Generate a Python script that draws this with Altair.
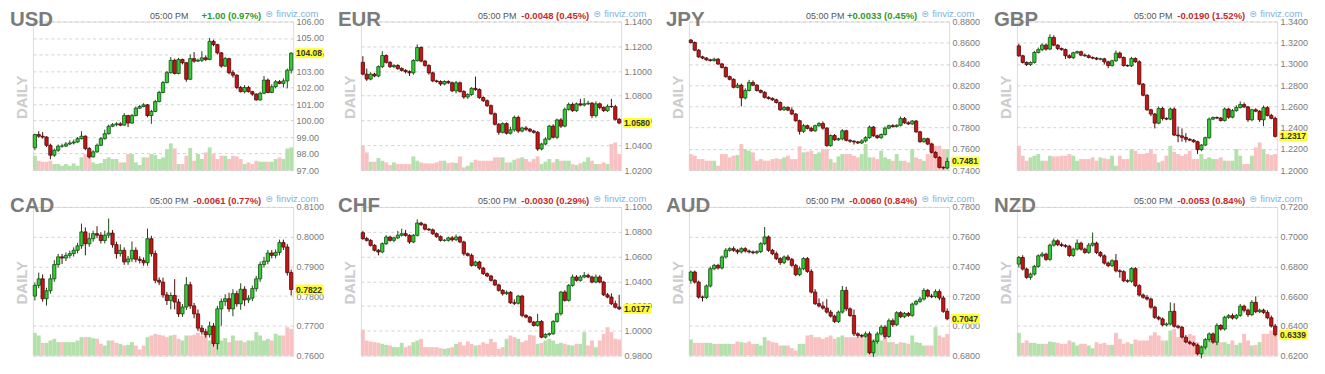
import altair as alt
import pandas as pd

# ---------------- labels ----------------
symbols = ["USD", "EUR", "JPY", "GBP", "CAD", "CHF", "AUD", "NZD"]
changes = ["+1.00 (0.97%)", "-0.0048 (0.45%)", "+0.0033 (0.45%)", "-0.0190 (1.52%)",
           "-0.0061 (0.77%)", "-0.0030 (0.29%)", "-0.0060 (0.84%)", "-0.0053 (0.84%)"]
time_label = "05:00 PM"
side_label = "DAILY"
site_label = "finviz.com"
months = ["Apr", "May", "Jun"]
month_start = [15.9, 36.4, 58.5]          # bar index where each month begins

usd_ticks = [97, 98, 99, 100, 101, 102, 103, 104, 105, 106]
eur_ticks = [1.02, 1.04, 1.06, 1.08, 1.10, 1.12, 1.14]
jpy_ticks = [0.74, 0.76, 0.78, 0.80, 0.82, 0.84, 0.86, 0.88]
gbp_ticks = [1.20, 1.22, 1.24, 1.26, 1.28, 1.30, 1.32, 1.34]
cad_ticks = [0.76, 0.77, 0.78, 0.79, 0.80, 0.81]
chf_ticks = [0.98, 1.00, 1.02, 1.04, 1.06, 1.08, 1.10]
aud_ticks = [0.68, 0.70, 0.72, 0.74, 0.76, 0.78]
nzd_ticks = [0.62, 0.64, 0.66, 0.68, 0.70, 0.72]

# ---------------- data (open of first bar, closes, wicks in pips, volume) ----------------
usd_open = 98.35
usd_close = [99.15, 99.05, 99.0, 98.5, 97.9, 98.2, 98.45, 98.45, 98.58, 98.64,
             98.7, 98.9, 99.05, 98.3, 97.8, 98.1, 98.5, 98.9, 99.2, 99.65,
             99.75, 99.8, 99.72, 100.3, 99.85, 100.3, 100.75, 100.85, 100.95, 100.3,
             100.55, 101.15, 101.7, 102.3, 102.9, 103.65, 102.85, 103.7, 103.5, 102.5,
             103.75, 103.6, 103.65, 103.8, 103.7, 104.8, 104.6, 104.1, 103.3, 103.75,
             102.9, 102.75, 102.0, 101.75, 102.0, 101.75, 101.6, 101.25, 101.65, 102.45,
             101.7, 102.05, 102.35, 102.25, 102.4, 103.05, 104.08]
usd_wick_up = [5, 20, 25, 5, 10, 10, 10, 15, 12, 16, 15, 10, 30, 5, 10, 10, 10, 10, 25, 10,
               10, 10, 10, 15, 5, 10, 10, 10, 10, 5, 10, 10, 10, 10, 10, 20, 10, 10, 5, 5,
               25, 40, 10, 40, 15, 20, 10, 5, 5, 10, 5, 15, 5, 10, 15, 10, 5, 5, 10, 25,
               10, 15, 10, 10, 15, 10, 7]
usd_wick_dn = [15, 10, 10, 10, 25, 10, 10, 10, 5, 8, 9, 5, 5, 10, 10, 5, 5, 5, 5, 5,
               5, 10, 7, 2, 25, 5, 5, 5, 5, 10, 50, 5, 5, 5, 5, 5, 5, 5, 10, 15,
               5, 10, 5, 10, 10, 5, 10, 10, 10, 5, 10, 15, 10, 5, 10, 5, 10, 5, 5, 5,
               5, 5, 10, 5, 25, 45, 20]
usd_volume = [43, 28, 25, 25, 28, 18, 18, 13, 18, 13, 20, 13, 38, 48, 45, 23, 18, 21, 33, 38,
              33, 33, 23, 23, 48, 48, 23, 15, 38, 38, 48, 45, 33, 38, 63, 80, 65, 18, 18, 43,
              66, 28, 48, 33, 53, 68, 48, 33, 43, 43, 33, 43, 41, 33, 18, 23, 18, 28, 25, 25,
              25, 25, 33, 38, 33, 65, 68]

eur_open = 1.107
eur_close = [1.0975, 1.0935, 1.0975, 1.096, 1.1035, 1.1125, 1.107, 1.1035, 1.1045, 1.102,
             1.1005, 1.0995, 1.0985, 1.1085, 1.119, 1.108, 1.1045, 1.0985, 1.092, 1.0915,
             1.0895, 1.0915, 1.0905, 1.084, 1.0905, 1.0835, 1.079, 1.081, 1.086, 1.085,
             1.0785, 1.076, 1.072, 1.0655, 1.057, 1.0505, 1.0575, 1.0497, 1.0525, 1.0625,
             1.0515, 1.054, 1.053, 1.0515, 1.0505, 1.037, 1.041, 1.045, 1.0555, 1.0465,
             1.0605, 1.0555, 1.069, 1.073, 1.068, 1.0735, 1.0725, 1.0735, 1.074, 1.064,
             1.0735, 1.0705, 1.068, 1.0715, 1.0712, 1.061, 1.058]
eur_wick_up = [50, 45, 15, 10, 10, 35, 10, 10, 10, 10, 10, 10, 10, 10, 25, 10, 10, 10, 10, 10,
               10, 10, 10, 10, 15, 10, 10, 10, 10, 95, 10, 10, 10, 10, 10, 10, 10, 10, 25, 15,
               15, 10, 15, 10, 10, 10, 10, 15, 10, 15, 10, 15, 15, 15, 15, 10, 40, 45, 20, 10,
               20, 10, 10, 15, 60, 15, 10]
eur_wick_dn = [10, 15, 10, 10, 10, 10, 10, 10, 10, 10, 10, 15, 25, 15, 10, 10, 10, 15, 10, 10,
               15, 10, 10, 10, 20, 10, 15, 15, 10, 10, 10, 10, 10, 10, 10, 20, 10, 10, 10, 15,
               15, 10, 15, 10, 10, 15, 10, 10, 10, 10, 15, 15, 10, 10, 10, 10, 10, 10, 10, 20,
               15, 15, 10, 10, 10, 10, 10]
eur_volume = [73, 53, 25, 25, 36, 28, 23, 15, 23, 18, 18, 18, 18, 41, 28, 23, 20, 20, 20, 23,
              28, 28, 21, 23, 21, 41, 8, 13, 23, 31, 28, 28, 28, 28, 38, 38, 38, 23, 23, 31,
              35, 38, 33, 25, 33, 41, 18, 25, 33, 23, 33, 28, 28, 28, 18, 15, 20, 25, 38, 28,
              18, 18, 23, 18, 78, 83, 48]

jpy_open = 0.8625
jpy_close = [0.8602, 0.853, 0.8467, 0.8455, 0.8439, 0.8432, 0.8445, 0.84, 0.8367, 0.828,
             0.8255, 0.818, 0.82, 0.808, 0.815, 0.8225, 0.82, 0.815, 0.8133, 0.8085,
             0.8075, 0.8062, 0.8037, 0.7968, 0.799, 0.7965, 0.7928, 0.7865, 0.7765, 0.7818,
             0.7793, 0.777, 0.7818, 0.7838, 0.7795, 0.763, 0.7725, 0.7685, 0.7695, 0.777,
             0.768, 0.7672, 0.7665, 0.7655, 0.7675, 0.7705, 0.7805, 0.7723, 0.7705, 0.7735,
             0.7795, 0.7818, 0.781, 0.7822, 0.7885, 0.7845, 0.7835, 0.7862, 0.776, 0.7667,
             0.7695, 0.7645, 0.7567, 0.752, 0.7425, 0.742, 0.7481]
jpy_wick_up = [10, 10, 10, 10, 10, 10, 15, 10, 10, 10, 10, 10, 20, 15, 20, 25, 20, 10, 10, 10,
               10, 10, 10, 10, 15, 10, 25, 10, 10, 15, 10, 15, 10, 15, 20, 10, 10, 15, 10, 15,
               10, 10, 10, 10, 15, 15, 15, 10, 10, 10, 15, 10, 15, 10, 20, 15, 15, 10, 10, 10,
               10, 10, 10, 10, 10, 10, 35]
jpy_wick_dn = [10, 10, 10, 10, 10, 10, 10, 10, 10, 10, 10, 10, 10, 80, 15, 10, 10, 10, 10, 10,
               10, 10, 10, 10, 10, 10, 10, 10, 30, 15, 10, 10, 10, 10, 15, 10, 10, 10, 10, 15,
               10, 15, 25, 10, 10, 15, 10, 10, 10, 10, 10, 10, 10, 10, 10, 10, 10, 10, 10, 10,
               10, 10, 10, 10, 10, 15, 10]
jpy_volume = [48, 43, 33, 33, 28, 28, 28, 13, 48, 48, 38, 43, 45, 78, 63, 58, 53, 28, 33, 28,
              28, 33, 35, 33, 38, 43, 33, 33, 71, 53, 55, 58, 48, 53, 63, 63, 33, 23, 41, 48,
              48, 48, 43, 38, 48, 78, 38, 38, 33, 58, 38, 33, 28, 48, 28, 28, 23, 63, 38, 33,
              28, 48, 83, 73, 73, 63, 63]

gbp_open = 1.317
gbp_close = [1.3077, 1.3014, 1.2995, 1.3014, 1.3108, 1.3135, 1.3178, 1.314, 1.325, 1.3177,
             1.3145, 1.3135, 1.3077, 1.306, 1.3105, 1.3115, 1.3083, 1.3077, 1.3061, 1.3055,
             1.3045, 1.3048, 1.302, 1.2985, 1.303, 1.3102, 1.3061, 1.2985, 1.2982, 1.3052,
             1.302, 1.281, 1.2705, 1.2568, 1.2528, 1.2442, 1.258, 1.2487, 1.248, 1.2575,
             1.233, 1.2322, 1.2308, 1.229, 1.2282, 1.2267, 1.2192, 1.2235, 1.2305, 1.248,
             1.2495, 1.249, 1.2467, 1.2575, 1.2498, 1.256, 1.259, 1.2617, 1.2595, 1.2474,
             1.2568, 1.2555, 1.2474, 1.2588, 1.2515, 1.2488, 1.2317]
gbp_wick_up = [20, 10, 10, 10, 15, 20, 15, 15, 30, 20, 10, 10, 10, 15, 10, 10, 10, 15, 15, 10,
               10, 10, 10, 10, 10, 25, 15, 10, 10, 15, 10, 15, 10, 10, 10, 10, 20, 15, 10, 15,
               15, 80, 70, 40, 10, 10, 10, 10, 10, 15, 10, 10, 10, 15, 10, 15, 20, 30, 20, 10,
               10, 15, 10, 20, 15, 15, 15]
gbp_wick_dn = [10, 10, 15, 15, 10, 10, 15, 15, 10, 10, 15, 10, 30, 10, 15, 10, 10, 10, 10, 10,
               10, 10, 25, 25, 10, 10, 10, 10, 10, 10, 10, 10, 10, 10, 20, 50, 10, 20, 10, 10,
               10, 60, 40, 30, 10, 10, 40, 15, 10, 10, 10, 10, 10, 10, 15, 10, 10, 10, 10, 20,
               15, 10, 20, 60, 10, 10, 10]
gbp_volume = [73, 43, 28, 38, 43, 48, 28, 28, 43, 41, 41, 43, 43, 48, 43, 28, 33, 33, 33, 38,
              28, 38, 35, 33, 43, 13, 43, 33, 33, 63, 58, 48, 48, 51, 63, 48, 23, 28, 43, 73,
              55, 48, 43, 48, 58, 33, 33, 48, 33, 38, 33, 33, 38, 28, 28, 28, 63, 43, 18, 18,
              43, 68, 83, 63, 48, 45, 48]

cad_open = 0.78
cad_close = [0.7836, 0.7858, 0.7791, 0.7818, 0.7858, 0.7906, 0.7932, 0.7928, 0.7937, 0.7943,
             0.7954, 0.7969, 0.8016, 0.7976, 0.7993, 0.801, 0.8005, 0.7987, 0.8005, 0.8012,
             0.7973, 0.7943, 0.7954, 0.7915, 0.7925, 0.7954, 0.7924, 0.792, 0.7912, 0.7993,
             0.7943, 0.7853, 0.7847, 0.7804, 0.7785, 0.7802, 0.778, 0.774, 0.7763, 0.7838,
             0.7767, 0.774, 0.7692, 0.768, 0.767, 0.7699, 0.764, 0.7757, 0.7782, 0.7791,
             0.7757, 0.7808, 0.7774, 0.7823, 0.7787, 0.7793, 0.7825, 0.7858, 0.7906, 0.7917,
             0.7945, 0.7937, 0.7947, 0.798, 0.7965, 0.7879, 0.7822]
cad_wick_up = [10, 21, 15, 10, 15, 15, 10, 10, 10, 10, 10, 10, 28, 15, 20, 10, 25, 10, 15, 49,
               10, 10, 20, 10, 10, 30, 10, 10, 10, 34, 10, 10, 10, 15, 10, 10, 55, 10, 10, 26,
               10, 10, 15, 10, 10, 15, 10, 10, 10, 15, 20, 15, 10, 20, 10, 10, 10, 10, 10, 15,
               10, 10, 10, 10, 10, 10, 10]
cad_wick_dn = [15, 10, 10, 23, 10, 10, 10, 20, 10, 10, 10, 10, 10, 39, 10, 10, 10, 10, 10, 10,
               10, 17, 10, 10, 10, 10, 10, 10, 10, 10, 10, 10, 10, 10, 15, 30, 25, 10, 10, 10,
               10, 15, 10, 10, 10, 10, 10, 20, 57, 15, 10, 25, 10, 20, 20, 10, 10, 10, 10, 10,
               10, 10, 10, 10, 10, 10, 20]
cad_volume = [68, 60, 38, 38, 45, 50, 40, 40, 40, 40, 40, 45, 55, 55, 55, 52, 50, 35, 30, 45,
              45, 38, 35, 30, 32, 40, 30, 18, 30, 55, 60, 65, 62, 60, 55, 60, 62, 50, 45, 60,
              60, 62, 68, 60, 62, 45, 48, 45, 45, 52, 40, 60, 45, 45, 40, 45, 45, 70, 60, 45,
              50, 45, 65, 60, 60, 85, 80]

chf_open = 1.0792
chf_close = [1.0744, 1.073, 1.069, 1.065, 1.0636, 1.0703, 1.0757, 1.073, 1.075, 1.0771,
             1.0784, 1.077, 1.0717, 1.0771, 1.087, 1.0857, 1.082, 1.0815, 1.0784, 1.076,
             1.073, 1.073, 1.075, 1.0735, 1.0757, 1.0717, 1.0622, 1.0609, 1.0528, 1.0555,
             1.0506, 1.0461, 1.0442, 1.0407, 1.037, 1.0326, 1.0299, 1.031, 1.0226, 1.0222,
             1.028, 1.0124, 1.011, 1.007, 1.0043, 1.0075, 0.9948, 0.997, 0.9976, 1.0075,
             1.0137, 1.0312, 1.0245, 1.0366, 1.0434, 1.0407, 1.0434, 1.0447, 1.0434, 1.0393,
             1.0434, 1.0393, 1.029, 1.0272, 1.0218, 1.019, 1.0177]
chf_wick_up = [15, 15, 10, 10, 10, 10, 15, 10, 10, 35, 40, 30, 10, 10, 30, 10, 10, 10, 10, 10,
               10, 10, 10, 15, 20, 10, 10, 10, 15, 10, 10, 10, 10, 10, 10, 10, 10, 15, 10, 27,
               10, 10, 10, 10, 10, 60, 10, 10, 10, 10, 10, 10, 15, 10, 20, 15, 15, 27, 15, 10,
               20, 15, 10, 15, 30, 25, 100]
chf_wick_dn = [10, 10, 10, 10, 27, 10, 10, 10, 15, 10, 10, 10, 15, 10, 10, 10, 10, 10, 10, 10,
               10, 10, 10, 15, 10, 10, 15, 10, 10, 10, 15, 10, 10, 10, 10, 10, 15, 10, 10, 15,
               10, 15, 10, 10, 10, 10, 8, 10, 15, 10, 10, 15, 10, 10, 10, 10, 10, 10, 10, 10,
               10, 10, 10, 10, 10, 10, 10]
chf_volume = [78, 45, 42, 40, 38, 35, 32, 30, 25, 25, 38, 25, 30, 40, 45, 50, 25, 25, 25, 25,
              22, 20, 22, 25, 35, 40, 30, 42, 35, 30, 32, 40, 35, 50, 40, 20, 25, 50, 60, 55,
              50, 40, 45, 62, 60, 35, 38, 45, 50, 45, 35, 38, 35, 32, 30, 35, 35, 70, 30, 45,
              25, 45, 65, 85, 70, 50, 48]

aud_open = 0.7306
aud_close = [0.7362, 0.7294, 0.7193, 0.7191, 0.7268, 0.7384, 0.7407, 0.7389, 0.7463, 0.7508,
             0.7519, 0.7508, 0.7497, 0.7519, 0.7503, 0.7497, 0.7492, 0.7499, 0.7553, 0.7598,
             0.7508, 0.7485, 0.7452, 0.7425, 0.7463, 0.7447, 0.7407, 0.7344, 0.7384, 0.7452,
             0.7366, 0.7227, 0.7149, 0.7133, 0.7119, 0.7092, 0.7065, 0.7029, 0.7092, 0.7238,
             0.7114, 0.7069, 0.6946, 0.6935, 0.693, 0.6946, 0.6818, 0.6895, 0.6945, 0.6991,
             0.6928, 0.7034, 0.7007, 0.7088, 0.7061, 0.7083, 0.707, 0.7146, 0.7164, 0.718,
             0.7238, 0.72, 0.7196, 0.723, 0.7187, 0.7097, 0.7047]
aud_wick_up = [10, 10, 10, 10, 10, 15, 10, 10, 10, 15, 10, 15, 10, 10, 10, 10, 10, 10, 10, 67,
               10, 10, 15, 10, 10, 15, 10, 10, 15, 10, 11, 15, 20, 35, 30, 60, 15, 10, 10, 30,
               25, 10, 40, 10, 10, 15, 15, 10, 15, 15, 15, 15, 15, 10, 10, 10, 10, 10, 10, 15,
               15, 10, 15, 15, 15, 15, 20]
aud_wick_dn = [23, 10, 10, 27, 10, 10, 10, 10, 10, 10, 10, 10, 15, 10, 10, 10, 10, 10, 10, 10,
               10, 10, 10, 15, 10, 10, 10, 10, 10, 10, 10, 10, 10, 10, 10, 10, 10, 10, 10, 10,
               15, 10, 15, 15, 10, 10, 10, 28, 15, 10, 15, 10, 15, 10, 10, 10, 10, 10, 10, 10,
               10, 10, 10, 10, 15, 10, 10]
aud_volume = [48, 38, 38, 38, 38, 38, 35, 35, 35, 35, 35, 35, 42, 40, 38, 42, 35, 35, 30, 55,
              45, 40, 38, 30, 30, 30, 22, 15, 35, 35, 60, 62, 55, 55, 50, 55, 60, 50, 55, 60,
              55, 55, 55, 55, 60, 60, 30, 50, 50, 45, 55, 40, 40, 35, 40, 38, 35, 60, 40, 38,
              30, 30, 30, 85, 60, 55, 65]

nzd_open = 0.6815
nzd_close = [0.686, 0.6782, 0.6726, 0.6748, 0.68, 0.6871, 0.6882, 0.6847, 0.6943, 0.6972,
             0.6946, 0.694, 0.6935, 0.6873, 0.6916, 0.6956, 0.6916, 0.6894, 0.6943, 0.6956,
             0.6893, 0.6871, 0.6822, 0.6805, 0.6838, 0.677, 0.6764, 0.6703, 0.67, 0.6785,
             0.667, 0.6607, 0.6592, 0.658, 0.6525, 0.6457, 0.6446, 0.6406, 0.6412, 0.6497,
             0.6397, 0.639, 0.6323, 0.629, 0.6282, 0.627, 0.6211, 0.6256, 0.6307, 0.6345,
             0.629, 0.6402, 0.6378, 0.6457, 0.6468, 0.6452, 0.647, 0.6532, 0.6505, 0.6475,
             0.6558, 0.6495, 0.6505, 0.649, 0.6454, 0.6398, 0.6339]
nzd_wick_up = [10, 15, 10, 10, 10, 10, 15, 10, 10, 15, 10, 15, 10, 10, 10, 25, 10, 10, 15, 72,
               10, 10, 10, 10, 10, 45, 10, 10, 10, 10, 10, 10, 10, 15, 10, 10, 10, 10, 10, 61,
               55, 10, 10, 15, 10, 10, 10, 10, 10, 10, 10, 15, 10, 10, 10, 15, 10, 15, 10, 10,
               15, 40, 10, 10, 15, 15, 15]
nzd_wick_dn = [22, 10, 10, 16, 10, 10, 10, 10, 10, 10, 10, 10, 10, 10, 10, 10, 10, 10, 10, 10,
               10, 10, 10, 10, 10, 10, 40, 10, 10, 10, 10, 10, 10, 10, 10, 10, 10, 10, 10, 10,
               10, 10, 10, 10, 10, 10, 10, 30, 15, 15, 10, 20, 10, 10, 10, 10, 10, 10, 15, 15,
               10, 10, 10, 10, 10, 10, 10]
nzd_volume = [68, 38, 45, 38, 38, 35, 35, 35, 42, 40, 38, 35, 35, 45, 40, 30, 35, 35, 30, 22,
              40, 35, 38, 32, 32, 68, 50, 35, 40, 35, 48, 45, 45, 45, 60, 70, 60, 45, 45, 75,
              80, 55, 50, 35, 65, 60, 40, 30, 40, 45, 40, 45, 40, 40, 35, 45, 32, 38, 65, 45,
              30, 32, 40, 65, 65, 75, 60]

panels_data = [
    ("USD", usd_open, usd_close, usd_wick_up, usd_wick_dn, usd_volume, 0.01, usd_ticks, 2),
    ("EUR", eur_open, eur_close, eur_wick_up, eur_wick_dn, eur_volume, 0.0001, eur_ticks, 4),
    ("JPY", jpy_open, jpy_close, jpy_wick_up, jpy_wick_dn, jpy_volume, 0.0001, jpy_ticks, 4),
    ("GBP", gbp_open, gbp_close, gbp_wick_up, gbp_wick_dn, gbp_volume, 0.0001, gbp_ticks, 4),
    ("CAD", cad_open, cad_close, cad_wick_up, cad_wick_dn, cad_volume, 0.0001, cad_ticks, 4),
    ("CHF", chf_open, chf_close, chf_wick_up, chf_wick_dn, chf_volume, 0.0001, chf_ticks, 4),
    ("AUD", aud_open, aud_close, aud_wick_up, aud_wick_dn, aud_volume, 0.0001, aud_ticks, 4),
    ("NZD", nzd_open, nzd_close, nzd_wick_up, nzd_wick_dn, nzd_volume, 0.0001, nzd_ticks, 4),
]

# ---------------- styling ----------------
W, H = 261, 149
FONT = "Liberation Sans"
UP_FILL, DN_FILL = "#33cc33", "#c81414"
UP_EDGE, DN_EDGE = "#174a17", "#4a0c0c"
UP_VOL, DN_VOL = "#b3e0ab", "#f9c2c2"
GRID = "#d2d2d2"
IS_UP = "datum.c >= datum.o"

month_expr = "datum.value < 26 ? '%s' : (datum.value < 48 ? '%s' : '%s')" % tuple(months)


def build_panel(sym, chg, o0, close, wu, wd, vol, unit, ticks, dec):
    rows = []
    prev = o0
    for i, (c, a, b, v) in enumerate(zip(close, wu, wd, vol)):
        o = prev
        rows.append({"i": i, "o": o, "c": c,
                     "h": max(o, c) + a * unit, "l": min(o, c) - b * unit,
                     "v": v, "x0": i - 0.5, "x1": i + 0.5,
                     "b0": i - 0.42, "b1": i + 0.42, "z": 0})
        prev = c
    df = pd.DataFrame(rows)
    n = len(df)
    xsc = alt.Scale(domain=[-0.5, n - 0.5], nice=False, zero=False)
    ysc = alt.Scale(domain=[ticks[0], ticks[-1]], nice=False, zero=False)
    fmt = ".%df" % dec

    xaxis = alt.Axis(values=month_start, labelExpr=month_expr, grid=True, gridColor=GRID,
                     gridDash=[3, 3], ticks=False, domain=False, labelPadding=4,
                     labelFontSize=9.5, labelColor="#7a7a7a", labelFont=FONT,
                     labelFlush=False, title=None)
    yaxis = alt.Axis(orient="right", values=ticks, format=fmt, grid=True, gridColor=GRID,
                     gridDash=[3, 3], ticks=False, domain=False, labelPadding=3,
                     labelFontSize=9, labelColor="#7a7a7a", labelFont=FONT,
                     labelOverlap=False, title=None)

    base = alt.Chart(df)
    volume = base.mark_rect().encode(
        x=alt.X("x0:Q", scale=xsc, axis=xaxis), x2="x1",
        y=alt.Y("v:Q", scale=alt.Scale(domain=[0, 446], nice=False), axis=None), y2="z",
        color=alt.when(IS_UP).then(alt.value(UP_VOL)).otherwise(alt.value(DN_VOL)),
    )
    wicks = base.mark_rule(strokeWidth=1).encode(
        x=alt.X("i:Q", scale=xsc, axis=None),
        y=alt.Y("l:Q", scale=ysc, axis=yaxis), y2="h",
        color=alt.when(IS_UP).then(alt.value(UP_EDGE)).otherwise(alt.value(DN_EDGE)),
    )
    bodies = base.mark_rect(strokeWidth=0.8).encode(
        x=alt.X("b0:Q", scale=xsc, axis=None), x2="b1",
        y=alt.Y("o:Q", scale=ysc, axis=None), y2="c",
        fill=alt.when(IS_UP).then(alt.value(UP_FILL)).otherwise(alt.value(DN_FILL)),
        stroke=alt.when(IS_UP).then(alt.value(UP_EDGE)).otherwise(alt.value(DN_EDGE)),
    )

    last = pd.DataFrame({"c": [close[-1]], "lab": [format(close[-1], fmt)]})
    tag_box = alt.Chart(last).mark_rule(strokeWidth=10, color="#ffff33", strokeCap="butt").encode(
        x=alt.value(W + 2), x2=alt.value(W + 30),
        y=alt.Y("c:Q", scale=ysc, axis=None),
    )
    tag_text = alt.Chart(last).mark_text(align="left", baseline="middle", fontSize=8.5,
                                         fontWeight="bold", color="#333333", font=FONT).encode(
        x=alt.value(W + 3), y=alt.Y("c:Q", scale=ysc, axis=None), text="lab:N",
    )

    info = pd.DataFrame({"sym": [sym], "chg": [chg], "time": [time_label],
                         "side": [side_label], "site": [site_label]})
    tinfo = alt.Chart(info)
    title = tinfo.mark_text(align="left", baseline="alphabetic", fontSize=20.5, fontWeight="bold",
                            color="#7b7b7b", font=FONT).encode(
        x=alt.value(-23), y=alt.value(5), text="sym:N")
    side = tinfo.mark_text(align="center", baseline="middle", angle=270, fontSize=15,
                           fontWeight="bold", color="#cdcdcd", font=FONT).encode(
        x=alt.value(-11), y=alt.value(76), text="side:N")
    tlabel = tinfo.mark_text(align="right", baseline="alphabetic", fontSize=9,
                             color="#555555", font=FONT).encode(
        x=alt.value(156), y=alt.value(-3), text="time:N")
    chg_color = "#2e9a2e" if chg.startswith("+") else "#c42a2a"
    clabel = tinfo.mark_text(align="right", baseline="alphabetic", fontSize=9.5, fontWeight="bold",
                             color=chg_color, font=FONT).encode(
        x=alt.value(229), y=alt.value(-3), text="chg:N")
    icon = tinfo.mark_text(align="left", baseline="alphabetic", fontSize=9,
                           color="#7fb0da", font="DejaVu Sans").encode(
        x=alt.value(233), y=alt.value(-5), text=alt.value("\u229c"))
    site = tinfo.mark_text(align="left", baseline="alphabetic", fontSize=9.5,
                           color="#7fb0da", font=FONT).encode(
        x=alt.value(244), y=alt.value(-5), text="site:N")

    layer = alt.layer(volume, wicks, bodies, tag_box, tag_text,
                      title, side, tlabel, clabel, icon, site)
    return layer.resolve_scale(y="independent").properties(width=W, height=H)


panels = []
for (sym, o0, close, wu, wd, vol, unit, ticks, dec), chg in zip(panels_data, changes):
    panels.append(build_panel(sym, chg, o0, close, wu, wd, vol, unit, ticks, dec))

chart = alt.concat(*panels, columns=4, spacing={"row": 37, "column": 68}, bounds="flush").properties(
    padding={"left": 1, "top": -1, "right": 4, "bottom": 2}
).configure_view(
    stroke="#d0d0d0", strokeDash=[3, 3]
).configure(background="white")

chart.save("out.html", embed_options={"renderer": "svg", "actions": False})
